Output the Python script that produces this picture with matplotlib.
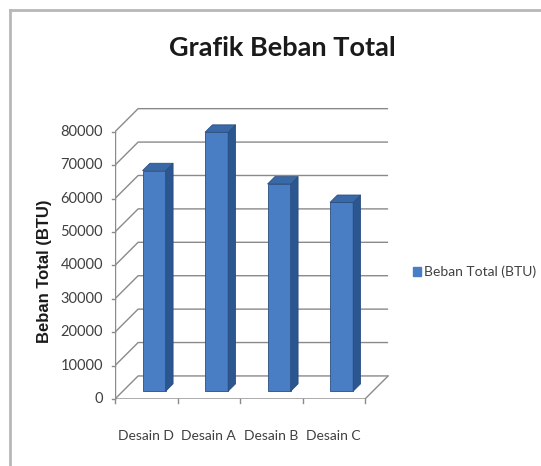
import matplotlib
matplotlib.use('Agg')
import matplotlib.pyplot as plt
from matplotlib.patches import Polygon, Patch
from matplotlib.lines import Line2D
import numpy as np

# ---- data ----
categories = ['Desain D', 'Desain A', 'Desain B', 'Desain C']
values = [66000, 77500, 62000, 56500]
series_name = 'Beban Total (BTU)'
title = 'Grafik Beban Total'
y_ticks = list(range(0, 80001, 10000))

plt.rcParams['font.family'] = ['Lato', 'DejaVu Sans']

W, H = 541, 466
fig = plt.figure(figsize=(W / 100, H / 100), dpi=100)
fig.patch.set_facecolor('white')

ax = fig.add_axes([115 / W, 1 - 399 / H, 275 / W, 294 / H])
ax.set_xlim(-0.5, -0.5 + 275 / 62.5)
ax.set_ylim(0, 294 / 33.41 * 10000)
ax.axis('off')

# 3D oblique depth (styling)
DX = 0.37
DY = 6900
F0 = 0.34      # bar front depth fraction
BD = 0.32      # bar depth fraction
BW = 0.37      # bar width
grid_c = '#8a8a8a'
front_c = '#4a7ec4'
side_c = '#2c5690'
top_c = '#3a69aa'
edge_c = '#2a4f80'
txt_c = '#404040'

n = len(categories)
x = np.arange(n)
left, right = -0.5, n - 0.5
ymax = y_ticks[-1]

# walls / gridlines
for v in y_ticks:
    ax.plot([left, left + DX, right + DX], [v, v + DY, v + DY],
            color=grid_c, lw=1, zorder=1, solid_capstyle='butt')
# floor
ax.plot([left, right, right + DX], [0, 0, DY], color=grid_c, lw=1, zorder=1)
# vertical axis
ax.plot([left, left], [0, ymax], color=grid_c, lw=1, zorder=1)
for v in y_ticks:
    ax.plot([left - 0.05, left], [v, v], color=grid_c, lw=1, zorder=1, clip_on=False)
    ax.text(left - 0.19, v, f'{v}', ha='right', va='center', fontsize=10.5,
            color=txt_c)
for b in np.arange(left, right + 0.01, 1.0):
    ax.plot([b, b], [0, -1100], color=grid_c, lw=1, zorder=1, clip_on=False)
for i, c in enumerate(categories):
    ax.text(x[i], -11000, c, ha='center', va='center', fontsize=10, color=txt_c)

# bars
xf = x + F0 * DX
bf = F0 * DY
ax.bar(xf, values, width=BW, bottom=bf, color=front_c, edgecolor=edge_c,
       linewidth=0.6, zorder=3)
for i, v in enumerate(values):
    xl = xf[i] - BW / 2
    xr = xf[i] + BW / 2
    top = bf + v
    ddx, ddy = BD * DX, BD * DY
    ax.add_patch(Polygon([(xr, bf), (xr + ddx, bf + ddy), (xr + ddx, top + ddy), (xr, top)],
                         closed=True, facecolor=side_c, edgecolor=edge_c, lw=0.6, zorder=3))
    ax.add_patch(Polygon([(xl, top), (xr, top), (xr + ddx, top + ddy), (xl + ddx, top + ddy)],
                         closed=True, facecolor=top_c, edgecolor=edge_c, lw=0.6, zorder=3))

# titles
fig.text(282 / W, 1 - 48 / H, title, ha='center', va='center', fontsize=19.5,
         fontweight='bold', color='#1a1a1a')
fig.text(45 / W, 1 - 271 / H, series_name, ha='center', va='center', rotation=90,
         fontsize=12, fontweight='bold', family=['Liberation Sans', 'DejaVu Sans'],
         color='#1a1a1a')

# legend
fig.legend(handles=[Patch(facecolor=front_c, edgecolor=front_c)], labels=[series_name],
           loc='center left', bbox_to_anchor=(413 / W, 1 - 272 / H), frameon=False,
           fontsize=10, handlelength=0.55, handleheight=0.55, handletextpad=0.25,
           borderpad=0, borderaxespad=0, labelcolor=txt_c)

# chart border (top/left visible)
fig.add_artist(Line2D([10 / W, 10 / W], [0, 1 - 10 / H], transform=fig.transFigure,
                      color='#b8b8b8', lw=2))
fig.add_artist(Line2D([10 / W, 1], [1 - 10 / H, 1 - 10 / H], transform=fig.transFigure,
                      color='#b8b8b8', lw=2))

fig.savefig('out.png', dpi=100)
